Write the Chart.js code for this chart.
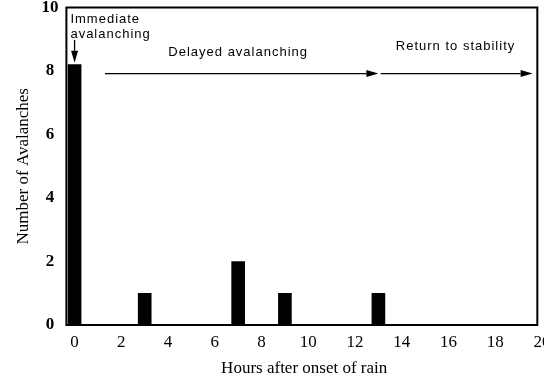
<!DOCTYPE html>
<html>
<head>
<meta charset="utf-8">
<script src="https://cdn.jsdelivr.net/npm/chart.js@4/dist/chart.umd.min.js"></script>
<style>
    html, body { margin: 0; padding: 0; background: #fff; overflow: hidden; }
    #wrap { width: 560px; height: 396px; position: relative; top: -9px; }
</style>
</head>
<body>
<div id="wrap"><canvas id="avalancheChart"></canvas></div>
<script>
// Data
const hours = [0, 3, 7, 9, 13];
const avalanches = [8.2, 1, 2, 1, 1];
const xTickValues = [0, 2, 4, 6, 8, 10, 12, 14, 16, 18, 20];
const yTickValues = [0, 2, 4, 6, 8, 10];

// Phase annotations (data coordinates)
const phaseLabels = ['Delayed avalanching', 'Return to stability'];
const phaseStart = [1.3, 13.1];
const phaseEnd = [13.0, 19.6];
const immediateLabel = ['Immediate', 'avalanching'];

const serif = '"Liberation Serif", "Times New Roman", serif';
const sans = '"Liberation Sans", Arial, sans-serif';

// Box around the plot + phase arrows and labels
const annotationPlugin = {
    id: 'annotations',
    afterDraw(chart) {
        const ctx = chart.ctx;
        const area = chart.chartArea;
        const x = chart.scales.x;
        const y = chart.scales.y;
        const frameRight = x.getPixelForValue(19.8);

        ctx.save();
        ctx.strokeStyle = '#000';
        ctx.lineWidth = 2;
        ctx.strokeRect(area.left, area.top, frameRight - area.left, area.bottom - area.top);

        ctx.fillStyle = '#000';
        ctx.font = '13px ' + sans;
        ctx.letterSpacing = '1px';
        ctx.textBaseline = 'middle';

        // Immediate avalanching label + down arrow
        ctx.textAlign = 'left';
        ctx.fillText(immediateLabel[0], area.left + 4, y.getPixelForValue(9.64));
        ctx.fillText(immediateLabel[1], area.left + 4, y.getPixelForValue(9.16));
        const ax = x.getPixelForValue(0);
        drawArrow(ctx, ax, y.getPixelForValue(8.98), ax, y.getPixelForValue(8.26));

        // Phase arrows
        const ay = y.getPixelForValue(7.92);
        ctx.textAlign = 'center';
        phaseLabels.forEach((label, i) => {
            const x0 = x.getPixelForValue(phaseStart[i]);
            const x1 = x.getPixelForValue(phaseEnd[i]);
            drawArrow(ctx, x0, ay, x1, ay);
        });
        ctx.fillText(phaseLabels[0], x.getPixelForValue(7.0), y.getPixelForValue(8.6));
        ctx.fillText(phaseLabels[1], x.getPixelForValue(16.3), y.getPixelForValue(8.77));
        ctx.restore();
    }
};

function drawArrow(ctx, x0, y0, x1, y1) {
    const angle = Math.atan2(y1 - y0, x1 - x0);
    const len = 12;
    const half = 3.5;
    ctx.beginPath();
    ctx.lineWidth = 1.3;
    ctx.moveTo(x0, y0);
    ctx.lineTo(x1 - len * Math.cos(angle), y1 - len * Math.sin(angle));
    ctx.stroke();
    ctx.beginPath();
    ctx.moveTo(x1, y1);
    ctx.lineTo(x1 - len * Math.cos(angle) - half * Math.sin(angle), y1 - len * Math.sin(angle) + half * Math.cos(angle));
    ctx.lineTo(x1 - len * Math.cos(angle) + half * Math.sin(angle), y1 - len * Math.sin(angle) - half * Math.cos(angle));
    ctx.closePath();
    ctx.fill();
}

const ctx = document.getElementById('avalancheChart').getContext('2d');
new Chart(ctx, {
    type: 'bar',
    data: {
        datasets: [{
            data: hours.map((h, i) => ({ x: h, y: avalanches[i] })),
            backgroundColor: '#000',
            borderWidth: 0,
            barThickness: 13
        }]
    },
    options: {
        responsive: true,
        maintainAspectRatio: false,
        animation: false,
        layout: { padding: { left: 9, right: 18, top: 0, bottom: 10 } },
        plugins: {
            legend: { display: false },
            tooltip: { enabled: false }
        },
        scales: {
            x: {
                type: 'linear',
                offset: false,
                min: -0.35,
                max: 20,
                grid: { display: false, drawTicks: false },
                border: { display: false },
                afterBuildTicks: axis => { axis.ticks = xTickValues.map(v => ({ value: v })); },
                ticks: {
                    color: '#000',
                    padding: 9,
                    maxRotation: 0,
                    font: { family: serif, size: 17, lineHeight: 1 }
                },
                title: {
                    display: true,
                    text: 'Hours after onset of rain',
                    color: '#000',
                    padding: { top: 0, bottom: 0 },
                    font: { family: serif, size: 17, lineHeight: 1 }
                }
            },
            y: {
                min: 0,
                max: 10,
                grid: { display: false, drawTicks: false },
                border: { display: false },
                afterBuildTicks: axis => { axis.ticks = yTickValues.map(v => ({ value: v })); },
                ticks: {
                    color: '#000',
                    padding: 8,
                    crossAlign: 'center',
                    font: { family: serif, size: 17, weight: 'bold', lineHeight: 1 }
                },
                title: {
                    display: true,
                    text: 'Number of Avalanches',
                    color: '#000',
                    padding: { top: 4, bottom: 0 },
                    font: { family: serif, size: 17 }
                }
            }
        }
    },
    plugins: [annotationPlugin]
});
</script>
</body>
</html>
